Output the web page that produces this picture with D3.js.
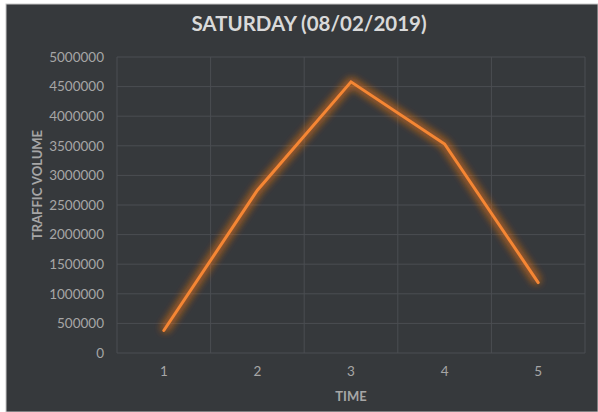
<!DOCTYPE html>
<html><head><meta charset="utf-8">
<script src="https://cdn.jsdelivr.net/npm/d3@7"></script>
<style>html,body{margin:0;padding:0;background:#fff;}svg{display:block;}</style>
</head><body>
<script>
const categories = ["1","2","3","4","5"];
const trafficVolume = [380000, 2750000, 4580000, 3530000, 1190000];
const yTicks = [0,500000,1000000,1500000,2000000,2500000,3000000,3500000,4000000,4500000,5000000];
const title = "SATURDAY (08/02/2019)";
const xTitle = "TIME";
const yTitle = "TRAFFIC VOLUME";

const W = 598, H = 412;
const svg = d3.select("body").append("svg").attr("width", W).attr("height", H);
const defs = svg.append("defs");
const f = defs.append("filter").attr("id","glow").attr("x","-20%").attr("y","-20%").attr("width","140%").attr("height","140%");
f.append("feGaussianBlur").attr("in","SourceGraphic").attr("stdDeviation",4.5).attr("result","b");
const m = f.append("feMerge");
m.append("feMergeNode").attr("in","b");
m.append("feMergeNode").attr("in","b");

svg.append("rect").attr("x",0).attr("y",0).attr("width",W).attr("height",H).attr("fill","#ffffff");
svg.append("rect").attr("x",6).attr("y",4).attr("width",W-6).attr("height",H-4).attr("fill","#36393c")
  .attr("stroke","#c8c8c8").attr("stroke-width",1);

const x = d3.scaleBand().domain(categories).range([117, 585]).paddingInner(0).paddingOuter(0);
const y = d3.scaleLinear().domain([0, 5000000]).range([353, 57]);

const font = "Lato, 'Open Sans', sans-serif";
// grid
const g = svg.append("g");
g.selectAll("line.h").data(yTicks).join("line")
  .attr("x1",117).attr("x2",585).attr("y1",d=>y(d)).attr("y2",d=>y(d))
  .attr("stroke","#4b4e52").attr("stroke-width",1);
const vx = categories.map(c=>x(c)).concat([x(categories[categories.length-1])+x.bandwidth()]);
g.selectAll("line.v").data(vx).join("line")
  .attr("x1",d=>d).attr("x2",d=>d).attr("y1",57).attr("y2",353)
  .attr("stroke","#4b4e52").attr("stroke-width",1);

// y axis labels
const yAxis = d3.axisLeft(y).tickValues(yTicks).tickFormat(d3.format("d")).tickSize(0).tickPadding(0);
const ya = svg.append("g").attr("transform","translate(104,0)").call(yAxis);
ya.select(".domain").remove();
ya.selectAll("text").attr("fill","#a6a6a6").attr("font-family",font).attr("font-size","13.5px");

const xAxis = d3.axisBottom(x).tickSize(0).tickPadding(0);
const xa = svg.append("g").attr("transform","translate(0,366)").call(xAxis);
xa.select(".domain").remove();
xa.selectAll("text").attr("fill","#a6a6a6").attr("font-family",font).attr("font-size","13.5px");

// line
const line = d3.line().x((d,i)=>x(categories[i])+x.bandwidth()/2).y(d=>y(d));
svg.append("path").datum(trafficVolume).attr("d",line).attr("fill","none")
  .attr("stroke","#e8721c").attr("stroke-width",6).attr("stroke-opacity",0.55)
  .attr("stroke-linejoin","round").attr("filter","url(#glow)");
svg.append("path").datum(trafficVolume).attr("d",line).attr("fill","none")
  .attr("stroke","#f58634").attr("stroke-width",3).attr("stroke-linejoin","miter").attr("stroke-linecap","round");

// titles
svg.append("text").attr("x",309).attr("y",31).attr("text-anchor","middle")
  .attr("fill","#d9d9d9").attr("font-family",font).attr("font-weight","bold").attr("font-size","20.5px").text(title);
svg.append("text").attr("x",351).attr("y",401).attr("text-anchor","middle")
  .attr("fill","#a6a6a6").attr("font-family",font).attr("font-weight","bold").attr("font-size","13px").text(xTitle);
svg.append("text").attr("transform","translate(42,185) rotate(-90)").attr("text-anchor","middle")
  .attr("fill","#a6a6a6").attr("font-family",font).attr("font-weight","bold").attr("font-size","13px").text(yTitle);
</script>
</body></html>
